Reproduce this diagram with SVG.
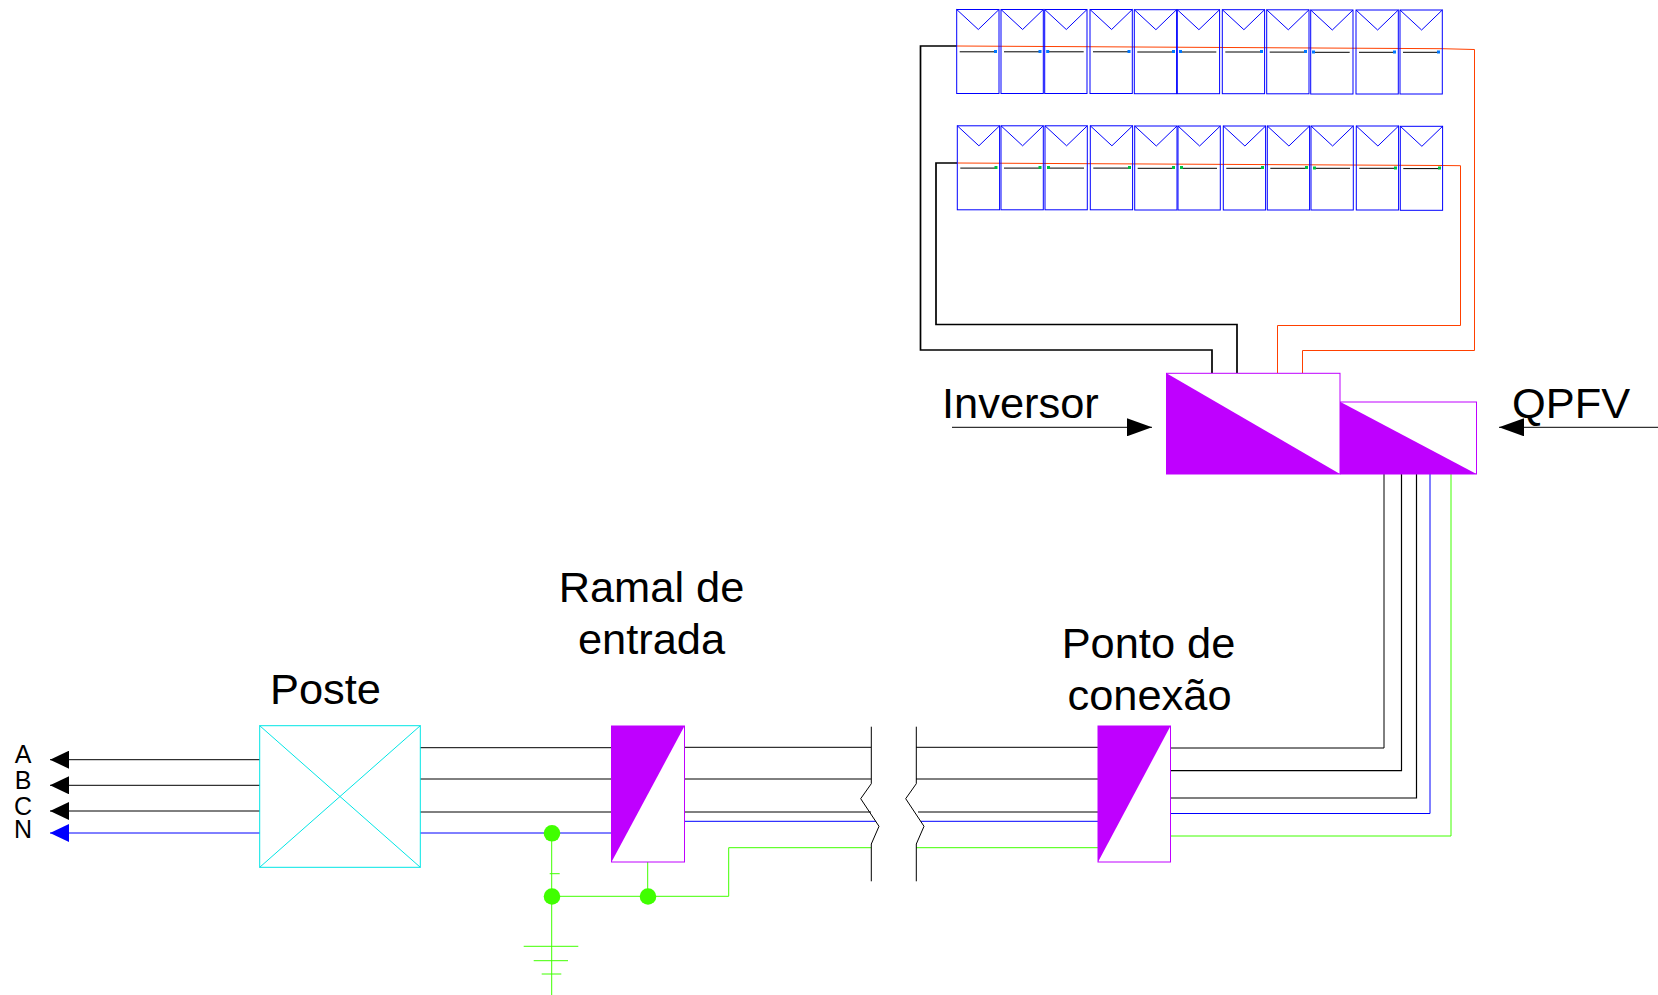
<svg xmlns="http://www.w3.org/2000/svg" xmlns:xlink="http://www.w3.org/1999/xlink" width="1658" height="995" viewBox="0 0 1658 995">
<style>
text{font-family:"Liberation Sans",Arial,sans-serif;fill:#000}
.t{font-size:43.4px}
.p{font-size:25px;text-anchor:middle}
.m{font-size:43.4px;text-anchor:middle}
.k,.kb,.kt,.b,.o,.g,.c,.bx,.pb{fill:none}
.k{stroke:#000;stroke-width:1}
.kb{stroke:#000;stroke-width:1.2}
.kt{stroke:#000;stroke-width:1.7}
.b{stroke:#0000ff;stroke-width:1}
.o{stroke:#ff4000;stroke-width:1}
.g{stroke:#40ff00;stroke-width:1}
.c{stroke:#00e5e5;stroke-width:1}
.bx{stroke:#bf00ff;stroke-width:1;fill:#fff}
.fp{fill:#bf00ff}
.dot{fill:#40ff00}
.pb{stroke:#0000ff;stroke-width:1}
.dr{fill:#0078ff}.dg{fill:#00c040}
</style>
<defs>
<g id="pv"><rect class="pb" width="42.3" height="84"/><path class="pb" d="M0 0L21.6 20L42.3 0"/><path class="k" d="M3 42.3H39"/></g>
<marker id="ak" markerUnits="userSpaceOnUse" markerWidth="26" markerHeight="18" refX="25" refY="9" orient="auto"><path d="M0 0L25 9L0 18Z" fill="#000"/></marker>
<marker id="al" markerUnits="userSpaceOnUse" markerWidth="19" markerHeight="18" refX="19" refY="9" orient="auto"><path d="M0 0L19 9L0 18Z" fill="#000"/></marker>
<marker id="ab" markerUnits="userSpaceOnUse" markerWidth="19" markerHeight="18" refX="19" refY="9" orient="auto"><path d="M0 0L19 9L0 18Z" fill="#0000ff"/></marker>
</defs>
<g id="connectors">
<path class="kt" d="M957 46H920.5V350H1212V373"/>
<path class="kt" d="M957 163H936V324.5H1237V373"/>
<path class="o" d="M957 46L1442 48.7L1474.5 49.5V350.5H1302.5V373"/>
<path class="o" d="M957 163L1442 165.5L1460.5 165.7V325.5H1277.5V373"/>
<path class="k" d="M1170 748H1384V474"/>
<path class="kb" d="M1170 770.7H1401.5V474"/>
<path class="kb" d="M1170 798H1416.5V474"/>
<path class="b" d="M1170 813.5H1430V474"/>
<path class="g" d="M1170 836H1451V474"/>
<path class="k" d="M952 427.3H1152" marker-end="url(#ak)"/>
<path class="k" d="M1658 427.3H1499" marker-end="url(#ak)"/>
<path class="k" d="M260 759.7H50" marker-end="url(#al)"/>
<path class="k" d="M260 785.3H50" marker-end="url(#al)"/>
<path class="k" d="M260 811H50" marker-end="url(#al)"/>
<path class="b" d="M260 833H50" marker-end="url(#ab)"/>
<path class="k" d="M420 747.7H611M420 779H611M420 812H611"/>
<path class="b" d="M420 833H611"/>
<path class="k" d="M684 747.3H871M684 779H871M684 812H871"/>
<path class="b" d="M684 821.3H876"/>
<path class="g" d="M871 847.7H728.7V896.3H551.7"/>
<path class="g" d="M647.7 862V896.3"/>
<path class="g" d="M551.7 833V995"/>
<path class="g" d="M549.7 873.7H559.7M523.7 946.3H578.3M533.7 960.7H568M541.7 974H561.3"/>
<path class="k" d="M916 747.3H1098M916 779H1098M918 812H1098"/>
<path class="b" d="M920.7 821.3H1098"/>
<path class="g" d="M916 847.7H1098"/>
<path class="k" d="M871.3 726.7V783.7L860.7 798.7L879 826.3L871.3 844V881.3"/>
<path class="k" d="M916.3 726.7V783.7L905.7 798.7L924 826.3L916.3 844V881.3"/>
</g>
<g id="row1">
<g id="pv1-1"><use xlink:href="#pv" x="956.7" y="9.5"/><rect class="dr" x="994" y="50" width="3" height="3"/></g>
<g id="pv1-2"><use xlink:href="#pv" x="1001" y="9.5"/><rect class="dr" x="1038.5" y="50" width="3" height="3"/></g>
<g id="pv1-3"><use xlink:href="#pv" x="1044.7" y="9.5"/><rect class="dr" x="1046.2" y="50" width="3" height="3"/></g>
<g id="pv1-4"><use xlink:href="#pv" x="1090" y="9.5"/><rect class="dr" x="1127.5" y="50" width="3" height="3"/></g>
<g id="pv1-5"><use xlink:href="#pv" x="1134.3" y="9.7"/><rect class="dr" x="1172" y="50" width="3" height="3"/></g>
<g id="pv1-6"><use xlink:href="#pv" x="1177.3" y="9.7"/><rect class="dr" x="1179" y="50" width="3" height="3"/></g>
<g id="pv1-7"><use xlink:href="#pv" x="1222.3" y="9.7"/><rect class="dr" x="1260" y="50" width="3" height="3"/></g>
<g id="pv1-8"><use xlink:href="#pv" x="1266.7" y="9.8"/><rect class="dr" x="1304" y="50" width="3" height="3"/></g>
<g id="pv1-9"><use xlink:href="#pv" x="1310.7" y="10"/><rect class="dr" x="1312" y="50.5" width="3" height="3"/></g>
<g id="pv1-10"><use xlink:href="#pv" x="1356" y="10"/><rect class="dr" x="1393" y="50.5" width="3" height="3"/></g>
<g id="pv1-11"><use xlink:href="#pv" x="1400" y="10"/><rect class="dr" x="1437" y="50.5" width="3" height="3"/></g>
</g>
<g id="row2">
<g id="pv2-1"><use xlink:href="#pv" x="957.3" y="125.8"/><rect class="dg" x="994.5" y="166" width="3" height="3"/></g>
<g id="pv2-2"><use xlink:href="#pv" x="1001" y="125.8"/><rect class="dg" x="1038.5" y="166" width="3" height="3"/></g>
<g id="pv2-3"><use xlink:href="#pv" x="1045" y="125.8"/><rect class="dg" x="1047" y="166" width="3" height="3"/></g>
<g id="pv2-4"><use xlink:href="#pv" x="1090.3" y="125.8"/><rect class="dg" x="1128" y="166" width="3" height="3"/></g>
<g id="pv2-5"><use xlink:href="#pv" x="1134.7" y="126"/><rect class="dg" x="1172" y="166" width="3" height="3"/></g>
<g id="pv2-6"><use xlink:href="#pv" x="1178" y="126"/><rect class="dg" x="1180" y="166" width="3" height="3"/></g>
<g id="pv2-7"><use xlink:href="#pv" x="1223.3" y="126"/><rect class="dg" x="1261" y="166" width="3" height="3"/></g>
<g id="pv2-8"><use xlink:href="#pv" x="1267.3" y="126"/><rect class="dg" x="1305" y="166" width="3" height="3"/></g>
<g id="pv2-9"><use xlink:href="#pv" x="1311" y="126"/><rect class="dg" x="1313" y="166.5" width="3" height="3"/></g>
<g id="pv2-10"><use xlink:href="#pv" x="1356.3" y="126"/><rect class="dg" x="1394" y="166.5" width="3" height="3"/></g>
<g id="pv2-11"><use xlink:href="#pv" x="1400.3" y="126.3"/><rect class="dg" x="1438" y="166.5" width="3" height="3"/></g>
</g>
<g id="inversor">
<rect class="bx" x="1166.5" y="373.3" width="173.5" height="100.7"/>
<path class="fp" d="M1166.5 373.3L1340 474H1166.5Z"/>
<text class="t" x="942" y="418">Inversor</text>
</g>
<g id="qpfv">
<rect class="bx" x="1340.5" y="402" width="136" height="72"/>
<path class="fp" d="M1340.5 402L1476.5 474H1340.5Z"/>
<text class="t" x="1512" y="418">QPFV</text>
</g>
<g id="poste">
<rect class="c" x="259.7" y="725.7" width="160.6" height="141.6"/>
<path class="c" d="M259.7 725.7L420.3 867.3M420.3 725.7L259.7 867.3"/>
<text class="t" x="270" y="704">Poste</text>
</g>
<g id="fases">
<text class="p" x="23" y="763">A</text>
<text class="p" x="23" y="789">B</text>
<text class="p" x="23" y="815">C</text>
<text class="p" x="23" y="838">N</text>
</g>
<g id="ramal">
<rect class="bx" x="611.5" y="726" width="73" height="136"/>
<path class="fp" d="M611.5 726H684.5L611.5 862Z"/>
<text class="m" x="651.5" y="601.7">Ramal de</text>
<text class="m" x="651.5" y="653.5">entrada</text>
</g>
<g id="ponto">
<rect class="bx" x="1098" y="726" width="72.5" height="136"/>
<path class="fp" d="M1098 726H1170.5L1098 862Z"/>
<text class="m" x="1148.5" y="657.8">Ponto de</text>
<text class="m" x="1149.5" y="709.6">conexão</text>
</g>
<g id="nos">
<circle class="dot" cx="552" cy="833.3" r="8.3"/>
<circle class="dot" cx="552" cy="896.5" r="8.3"/>
<circle class="dot" cx="648" cy="896.5" r="8.3"/>
</g>
</svg>
